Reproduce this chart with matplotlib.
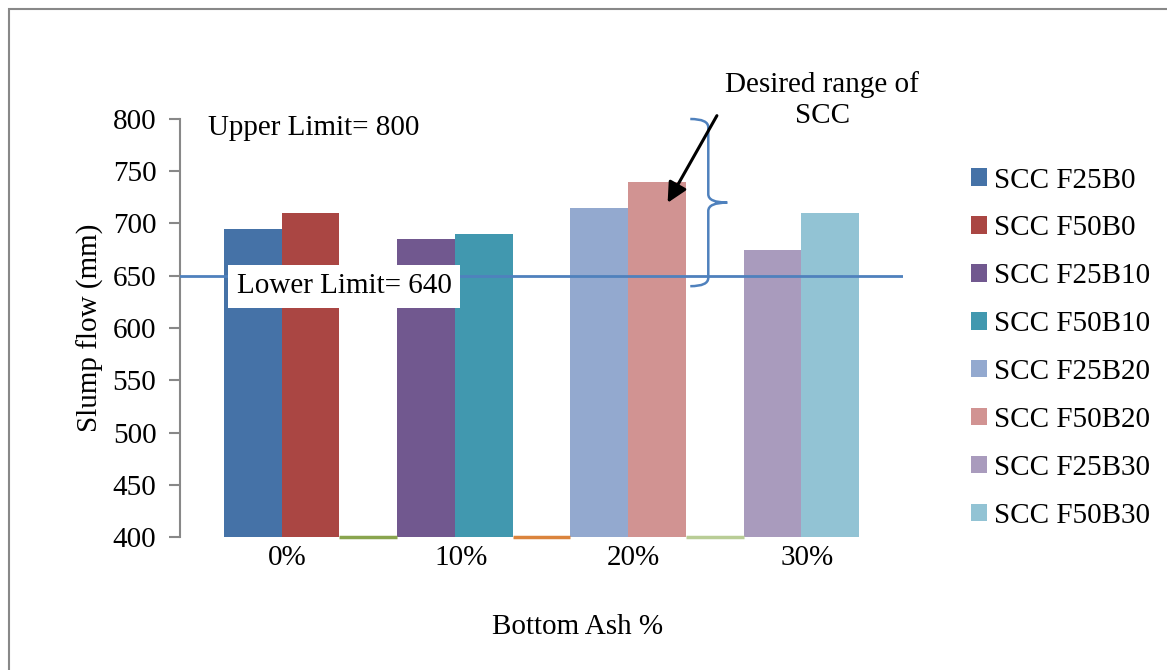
import numpy as np
import matplotlib.pyplot as plt
from matplotlib.path import Path
from matplotlib.patches import PathPatch, Rectangle

plt.rcParams['font.family'] = ['Liberation Serif', 'DejaVu Serif']
plt.rcParams['font.size'] = 21

# one slot per series, in the order Excel placed them (gap series are empty)
series = ["SCC F25B0", "SCC F50B0", "", "SCC F25B10", "SCC F50B10", "",
          "SCC F25B20", "SCC F50B20", "", "SCC F25B30", "SCC F50B30"]
flow = [695, 710, 0, 685, 690, 0, 715, 740, 0, 675, 710]
colors = ["#4572A7", "#AA4643", "#89A54E", "#71588F", "#4198AF", "#DB843D",
          "#93A9CF", "#D19392", "#B9CD96", "#A99BBD", "#92C3D4"]

categories = ["0%", "10%", "20%", "30%"]
lower_limit = 640
upper_limit = 800
line_level = 650
ymin, ymax = 400, 800

fig = plt.figure(figsize=(11.67, 6.70), dpi=100)
ax = fig.add_axes([0.1542, 0.1985, 0.6196, 0.6239])

x = np.arange(len(series))
handles = []
for xi, v, c, name in zip(x, flow, colors, series):
    if v > ymin:
        b = ax.bar(xi, v - ymin, bottom=ymin, width=1.0, color=c, label=name)
        handles.append(b)
    else:
        # empty series sit on the axis floor as a thin line
        ax.hlines(ymin, xi - 0.5, xi + 0.5, color=c, lw=2.5, clip_on=False, zorder=3)

ax.set_xlim(-1.262, len(series) - 0.5 + 0.762)
ax.set_ylim(ymin, ymax)
ax.set_yticks(np.arange(ymin, ymax + 1, 50))

# category labels centred under each pair of bars
ax.set_xticks(x[::3] + 0.6)
ax.set_xticklabels(categories)
ax.tick_params(axis='x', length=0, pad=6)
ax.tick_params(axis='y', length=8, width=1.5, color='#888888', pad=9, direction='out')

for s in ['top', 'right', 'bottom']:
    ax.spines[s].set_visible(False)
ax.spines['left'].set_color('#888888')
ax.spines['left'].set_linewidth(1.5)

ax.set_ylabel("Slump flow (mm)")
ax.yaxis.set_label_coords(-0.105, 0.5)
ax.set_xlabel("Bottom Ash %")
ax.xaxis.set_label_coords(0.55, -0.185)

# lower limit line across the plot
ax.axhline(line_level, color='#4F81BD', lw=2, zorder=4)

ax.text(0.039, 0.978, "Upper Limit= %d" % upper_limit, transform=ax.transAxes,
        ha='left', va='center')
ax.text(1.58, lower_limit, "Lower Limit= %d" % lower_limit, ha='center', va='center',
        zorder=5, bbox=dict(facecolor='white', edgecolor='none', pad=6))

# curly brace marking the desired range
x0, xv, xt = 7.577, 7.889, 8.218
mid = (upper_limit + lower_limit) / 2
r = 8
verts = [(x0, upper_limit), (xv, upper_limit), (xv, upper_limit - r),
         (xv, mid + r), (xv, mid), (xt, mid),
         (xv, mid), (xv, mid - r),
         (xv, lower_limit + r), (xv, lower_limit), (x0, lower_limit)]
codes = [Path.MOVETO, Path.CURVE3, Path.CURVE3,
         Path.LINETO, Path.CURVE3, Path.CURVE3,
         Path.CURVE3, Path.CURVE3,
         Path.LINETO, Path.CURVE3, Path.CURVE3]
ax.add_patch(PathPatch(Path(verts, codes), facecolor='none', edgecolor='#4F81BD',
                       lw=1.8, clip_on=False, zorder=5))

ax.text(9.865, 818, "Desired range of\nSCC", ha='center', va='center',
        linespacing=1.25, clip_on=False)
ax.annotate("", xy=(7.161, 717.5), xytext=(8.062, 805.5),
            arrowprops=dict(arrowstyle='-|>', lw=2.2, color='black', mutation_scale=30),
            annotation_clip=False, zorder=6)

fig.legend(handles=handles, loc='upper left', bbox_to_anchor=(0.832, 0.750),
           frameon=False, handlelength=0.55, handleheight=0.55, handletextpad=0.25,
           labelspacing=0.75, borderpad=0, borderaxespad=0)

# chart area border
fig.patches.append(Rectangle((9 / 1167, -0.1), 1.2, 0.1 + 1 - 9 / 670,
                             transform=fig.transFigure, fill=False,
                             edgecolor='#888888', lw=1.5))

fig.savefig("out.png", dpi=100)
